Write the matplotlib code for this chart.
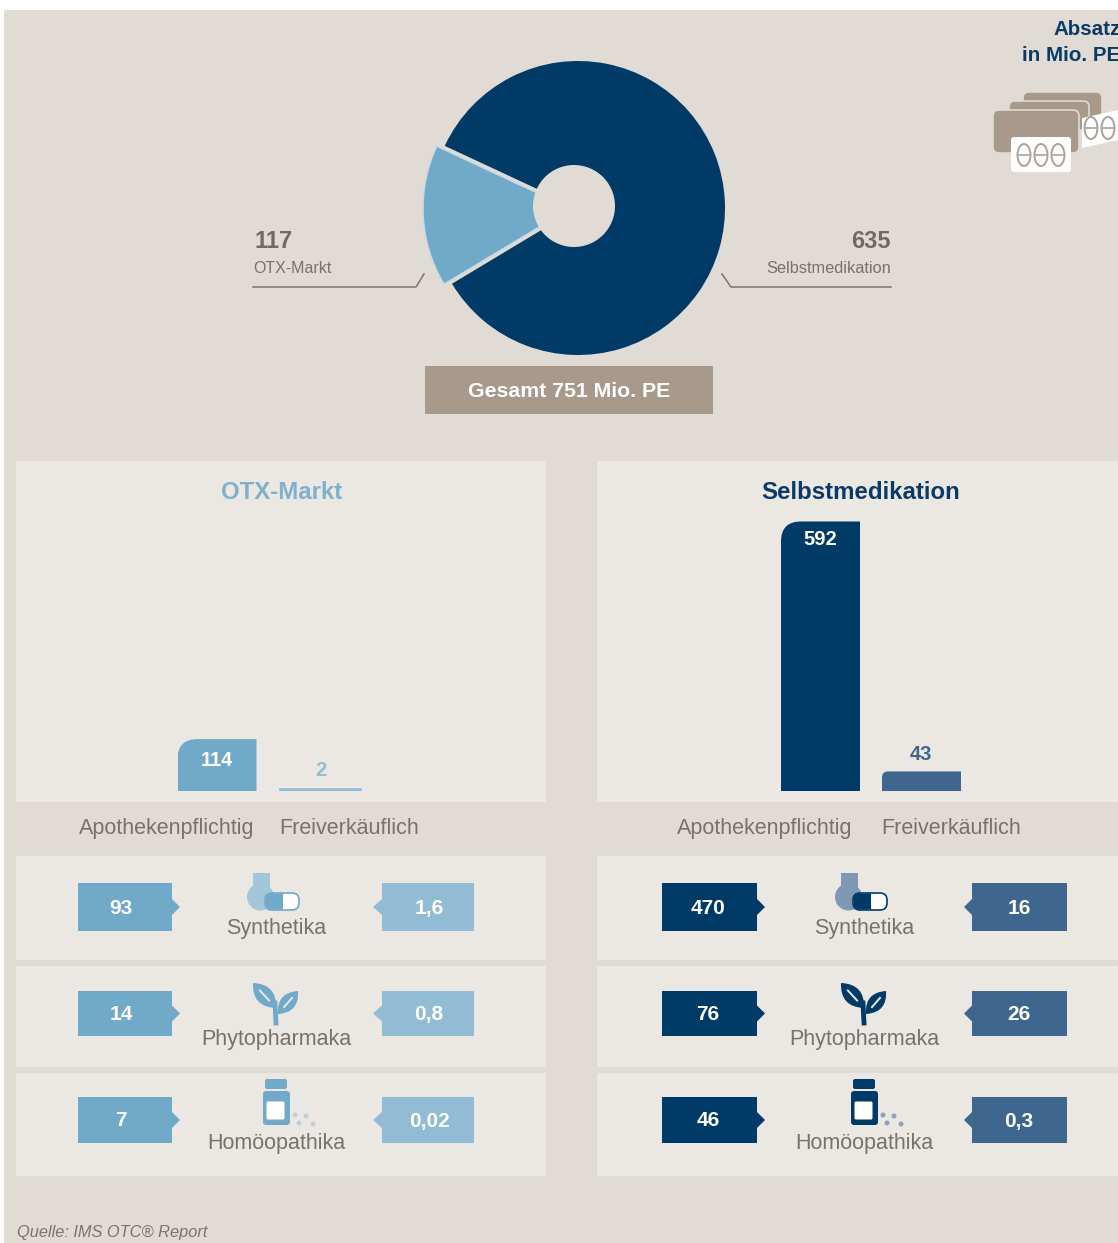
import matplotlib
matplotlib.use("Agg")
import matplotlib.pyplot as plt
from matplotlib.patches import Rectangle, Polygon, Circle, Ellipse, FancyBboxPatch, PathPatch
from matplotlib.path import Path

W, H = 1118, 1243
plt.rcParams['font.family'] = ['Liberation Sans', 'DejaVu Sans']

# data, in Mio. PE
pie_labels = ["OTX-Markt", "Selbstmedikation"]
pie_values = [117, 635]
total_text = "Gesamt 751 Mio. PE"
bar_labels = ["Apothekenpflichtig", "Freiverkäuflich"]
otx_bars = [114, 2]
sm_bars = [592, 43]
categories = ["Synthetika", "Phytopharmaka", "Homöopathika"]
otx_apo = ["93", "14", "7"]
otx_frei = ["1,6", "0,8", "0,02"]
sm_apo = ["470", "76", "46"]
sm_frei = ["16", "26", "0,3"]

BG = "#e0dbd5"
PANEL = "#ebe7e3"
TAUPE = "#a8998a"
GREY = "#77726d"
LBLUE = "#71a9c8"
LBLUE2 = "#92bcd3"
DBLUE = "#003a66"
DBLUE2 = "#3f668f"


def pixel_axes(z):
    a = fig.add_axes([0, 0, 1, 1])
    a.set_xlim(0, W)
    a.set_ylim(H, 0)
    a.axis("off")
    a.set_zorder(z)
    return a


fig = plt.figure(figsize=(W / 100, H / 100), dpi=100, facecolor="white")
ax = pixel_axes(1)   # backgrounds and icons
top = pixel_axes(5)  # texts and leader lines, above pie and bars


def rect(x0, y0, x1, y1, color, z=1):
    ax.add_patch(Rectangle((x0, y0), x1 - x0, y1 - y0, fc=color, ec="none", zorder=z))


def label(x, y, s, size=15.5, color=GREY, weight="normal", ha="center", **kw):
    top.text(x, y + 1, s, fontsize=size, color=color, fontweight=weight, ha=ha, va="center", **kw)


rect(4, 10, W, H, BG, 0)
for x0, x1 in [(16, 546), (597, W)]:
    rect(x0, 461, x1, 802, PANEL)
    rect(x0, 856, x1, 960, PANEL)
    rect(x0, 966, x1, 1067, PANEL)
    rect(x0, 1073, x1, 1176, PANEL)

# donut
R = 147
cx, cy = 578, 208
pad = 1.2
pie_ax = fig.add_axes([(cx - R * pad) / W, 1 - (cy + R * pad) / H, 2 * R * pad / W, 2 * R * pad / H])
wedges = pie_ax.pie(pie_values, colors=[LBLUE, DBLUE], startangle=155, explode=[0.054, 0],
                    radius=1, wedgeprops={"linewidth": 0})[0]
wedges[0].set_edgecolor("#c4dae6")
wedges[0].set_linewidth(1.0)
pie_ax.set_xlim(-pad, pad)
pie_ax.set_ylim(-pad, pad)
pie_ax.set_zorder(2)
pie_ax.add_patch(Circle((-4 / R, 2 / R), 41 / R, fc=BG, ec="none", zorder=5))

label(254, 240, str(pie_values[0]), size=17, ha="left", weight="bold", color="#6f6a65")
label(253, 267, pie_labels[0], size=11.5, ha="left")
top.plot([253, 416, 424], [287, 287, 274], color="#7f756c", lw=1.1)
label(891, 240, str(pie_values[1]), size=17, ha="right", weight="bold", color="#6f6a65")
label(891, 267, pie_labels[1], size=11.8, ha="right")
top.plot([891, 731, 722], [287, 287, 274], color="#7f756c", lw=1.1)

rect(425, 366, 713, 414, TAUPE, 2)
label(569, 390, total_text, size=15.3, color="white", weight="bold")

label(1053, 28, "Absatz", size=14.8, color="#0b3a66", weight="bold", ha="left")
label(1022, 54, "in Mio. PE", size=14.8, color="#0b3a66", weight="bold", ha="left")


# tablet icon
def blister(x, y, n):
    for i in range(n):
        ax.add_patch(Ellipse((x + i * 17, y), 13, 22, fc="white", ec="#a9a29b", lw=1.4, zorder=5))
        ax.plot([x + i * 17 - 6, x + i * 17 + 6], [y, y], color="#a9a29b", lw=1.2, zorder=5)


for x0, y0, x1, y1 in [(1023, 92, 1102, 125), (1009, 101, 1089, 130), (993, 110, 1079, 153)]:
    ax.add_patch(FancyBboxPatch((x0 + 6, y0 + 6), x1 - x0 - 12, y1 - y0 - 12, boxstyle="round,pad=6",
                                fc=TAUPE, ec=BG, lw=1.2, zorder=3))
ax.add_patch(Polygon([(1082, 118), (1118, 110), (1118, 140), (1082, 148)], fc="white", ec="none", zorder=4))
blister(1091, 128, 2)
ax.add_patch(FancyBboxPatch((1014, 140), 54, 29, boxstyle="round,pad=3", fc="white", ec="none", zorder=4))
blister(1024, 155, 3)


def bars(x0, x1, centers, values, colors, radii):
    base = 791
    y_top = 461
    scale = 269.5 / 592  # px per unit
    a = fig.add_axes([x0 / W, 1 - base / H, (x1 - x0) / W, (base - y_top) / H])
    a.set_xlim(x0, x1)
    a.set_ylim(0, (base - y_top) / scale)
    a.axis("off")
    a.set_zorder(3)
    bw = 79
    rs = a.bar(centers, values, width=bw, color=colors)
    for b, v, r in zip(rs, values, radii):
        if r == 0:
            # tiny bar, needs a visible line
            b.set_edgecolor(b.get_facecolor())
            b.set_linewidth(2.6)
            continue
        l = b.get_x()
        ry = r / scale
        p = Path([(l, 0), (l, v - ry), (l, v), (l + r, v), (l + bw, v), (l + bw, 0), (l, 0)],
                 [Path.MOVETO, Path.LINETO, Path.CURVE3, Path.CURVE3, Path.LINETO, Path.LINETO, Path.CLOSEPOLY])
        b.set_clip_path(p, a.transData)


bars(16, 546, [217, 320], otx_bars, [LBLUE, LBLUE2], [20, 0])
bars(597, 1118, [820.5, 921.5], sm_bars, [DBLUE, DBLUE2], [20, 6])

label(217, 759, str(otx_bars[0]), size=14.5, color="white", weight="bold")
label(321, 769, str(otx_bars[1]), size=14.5, color=LBLUE2, weight="bold")
label(820, 538, str(sm_bars[0]), size=14.5, color="white", weight="bold")
label(921, 753, str(sm_bars[1]), size=14.5, color=DBLUE2, weight="bold")

label(282, 491, pie_labels[0], size=17.3, color="#7fb0cc", weight="bold")
label(861, 491, pie_labels[1], size=17.3, color="#0b3a66", weight="bold")
label(167, 827, bar_labels[0])
label(349, 827, bar_labels[1])
label(765, 827, bar_labels[0])
label(951, 827, bar_labels[1])


def tag(x0, x1, y0, y1, color, text, tip, tx):
    ym = (y0 + y1) / 2
    if tip > x1:
        pts = [(x0, y0), (x1, y0), (x1, ym - 8), (tip, ym), (x1, ym + 8), (x1, y1), (x0, y1)]
    else:
        pts = [(x0, y0), (x1, y0), (x1, y1), (x0, y1), (x0, ym + 8), (tip, ym), (x0, ym - 8)]
    ax.add_patch(Polygon(pts, fc=color, ec="none", zorder=3))
    label(tx, ym, text, size=15, color="white", weight="bold")


rows = [(883, 931), (991, 1036), (1097, 1143)]
text_y = [927, 1038, 1142]
for i, (y0, y1) in enumerate(rows):
    tag(78, 172, y0, y1, LBLUE, otx_apo[i], 180, 121)
    tag(382, 474, y0, y1, LBLUE2, otx_frei[i], 373, 429)
    tag(662, 757, y0, y1, DBLUE, sm_apo[i], 765, 708)
    tag(972, 1067, y0, y1, DBLUE2, sm_frei[i], 964, 1019)
    label(276, text_y[i], categories[i])
    label(864, text_y[i], categories[i])


def flask_icon(dx, dark, light):
    ax.add_patch(Rectangle((253 + dx, 873), 17, 14, fc=light, ec="none", zorder=3))
    ax.add_patch(Circle((260.5 + dx, 897), 13.5, fc=light, ec="none", zorder=3))
    ax.add_patch(FancyBboxPatch((272 + dx, 900), 20, 3, boxstyle="round,pad=7", fc="white", ec=dark, lw=1.2, zorder=4))
    ax.add_patch(FancyBboxPatch((272 + dx, 900), 10, 3, boxstyle="round,pad=6.5", fc=dark, ec="none", zorder=4))
    ax.add_patch(Rectangle((283 + dx, 894), 6, 15, fc="white", ec="none", zorder=4))


def leaf(tip, base, bulge, color):
    mx, my = (tip[0] + base[0]) / 2, (tip[1] + base[1]) / 2
    nx, ny = base[1] - tip[1], tip[0] - base[0]
    c1 = (mx + nx * bulge, my + ny * bulge)
    c2 = (mx - nx * bulge, my - ny * bulge)
    p = Path([tip, c1, base, c2, tip], [Path.MOVETO, Path.CURVE3, Path.CURVE3, Path.CURVE3, Path.CURVE3])
    ax.add_patch(PathPatch(p, fc=color, ec="none", zorder=3))
    ax.plot([tip[0] * 0.7 + base[0] * 0.3, tip[0] * 0.3 + base[0] * 0.7],
            [tip[1] * 0.7 + base[1] * 0.3, tip[1] * 0.3 + base[1] * 0.7], color=PANEL, lw=1.4, zorder=4)


def plant_icon(dx, dark):
    leaf((253 + dx, 983), (276 + dx, 1008), 0.5, dark)
    leaf((298 + dx, 991), (278 + dx, 1014), 0.5, dark)
    ax.plot([275 + dx, 276 + dx], [1003, 1023], color=dark, lw=3.5, zorder=3)


def bottle_icon(dx, dark, dots):
    ax.add_patch(FancyBboxPatch((267 + dx, 1081), 18, 6, boxstyle="round,pad=2", fc=dark, ec="none", zorder=3))
    ax.add_patch(FancyBboxPatch((266 + dx, 1094), 21, 28, boxstyle="round,pad=3", fc=dark, ec="none", zorder=3))
    ax.add_patch(FancyBboxPatch((268 + dx, 1103), 15, 15, boxstyle="round,pad=1.5", fc="white", ec="none", zorder=4))
    for x, y in [(295, 1115), (306, 1116), (299, 1123), (313, 1124)]:
        ax.add_patch(Circle((x + dx, y), 2.5, fc=dots, ec="none", zorder=3))


flask_icon(0, LBLUE, "#a3c6da")
flask_icon(588, DBLUE, "#7f99b5")
plant_icon(0, LBLUE)
plant_icon(588, DBLUE)
bottle_icon(0, LBLUE, "#bcd0da")
bottle_icon(588, DBLUE, "#8ea3b8")

label(17, 1232, "Quelle: IMS OTC® Report", size=11.8, ha="left", style="italic", color="#7a746e")

fig.savefig("out.png", dpi=100)
